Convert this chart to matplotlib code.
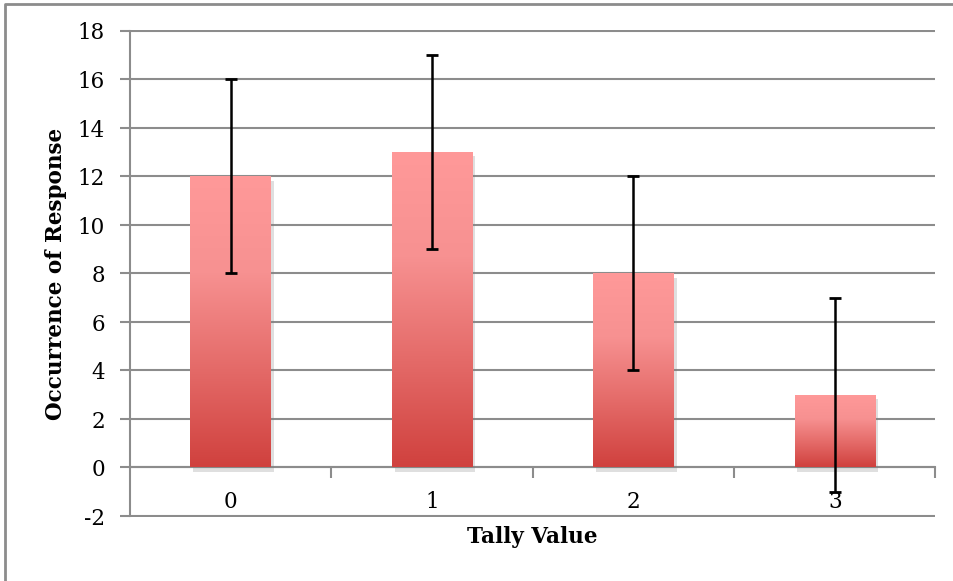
import numpy as np
import matplotlib
matplotlib.use('Agg')
import matplotlib.pyplot as plt
import matplotlib.patheffects as pe
from matplotlib.colors import LinearSegmentedColormap
from matplotlib.lines import Line2D

# data
categories = ['0', '1', '2', '3']
occurrences = [12, 13, 8, 3]
errors = [4, 4, 4, 4]
y_ticks = np.arange(-2, 19, 2)

plt.rcParams['font.family'] = 'DejaVu Serif'
plt.rcParams['axes.unicode_minus'] = False

fig = plt.figure(figsize=(9.535, 5.812), dpi=100)
ax = fig.add_axes([130 / 953, 1 - 517 / 581, 805 / 953, 487 / 581])

x = np.arange(len(categories))
grad = LinearSegmentedColormap.from_list('bar', ['#d0413e', '#e46a68', '#f79191', '#ff9999'])

bars = ax.bar(x, occurrences, width=0.4, color='none', edgecolor='none', zorder=3,
              path_effects=[pe.SimplePatchShadow(offset=(2, -3), shadow_rgbFace='#808080', alpha=0.25)])
for b in bars:
    x0, y0 = b.get_x(), b.get_y()
    w, h = b.get_width(), b.get_height()
    img = ax.imshow(np.linspace(0, 1, 256).reshape(-1, 1), cmap=grad, origin='lower',
                    extent=[x0, x0 + w, y0, y0 + h], aspect='auto', zorder=3)
    img.set_clip_path(b)

ax.errorbar(x, occurrences, yerr=errors, fmt='none', ecolor='black', elinewidth=1.8,
            capsize=4.5, capthick=2, zorder=6)

ax.set_xlim(-0.5, 3.5)
ax.set_ylim(-2.04, 18.04)
ax.set_yticks(y_ticks)
# horizontal gridlines
ax.hlines(y_ticks, -0.5, 3.5, color='#8c8c8c', linewidth=1.5, zorder=0)

# axes lines
for s in ['top', 'right']:
    ax.spines[s].set_visible(False)
ax.spines['left'].set_color('#8c8c8c')
ax.spines['left'].set_linewidth(1.5)
ax.spines['left'].set_bounds(-2, 18)
ax.spines['bottom'].set_position(('data', 0))
ax.spines['bottom'].set_color('#8c8c8c')
ax.spines['bottom'].set_linewidth(1.5)

ax.tick_params(axis='y', length=7, width=1.5, color='#8c8c8c', labelsize=15.5, pad=11)
ax.set_xticks(x)
ax.set_xticklabels(categories)
ax.set_xticks(np.arange(-0.5, 3.6, 1)[1:], minor=True)
ax.tick_params(axis='x', which='major', length=0, labelsize=15.5, pad=17)
ax.tick_params(axis='x', which='minor', length=8, width=1.5, color='#8c8c8c')
for t in ax.get_xticklabels():
    t.set_zorder(4)

ax.set_ylabel('Occurrence of Response', fontsize=15.5, fontweight='bold', labelpad=8)
fig.text(532 / 953, 1 - 537 / 581, 'Tally Value', ha='center', va='center',
         fontsize=15.5, fontweight='bold')

# outer frame (left and top edges)
fig.add_artist(Line2D([5 / 953, 5 / 953, 1], [0, 1 - 4 / 581, 1 - 4 / 581],
                      transform=fig.transFigure, color='#8c8c8c', linewidth=2))

fig.savefig('out.png', dpi=100)
